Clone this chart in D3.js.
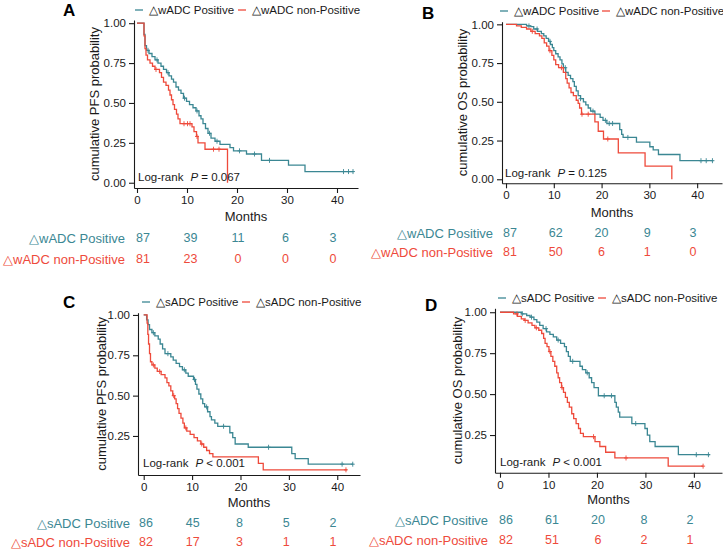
<!DOCTYPE html>
<html>
<head>
<meta charset="utf-8">
<script src="https://cdn.jsdelivr.net/npm/d3@7"></script>
<style>
  body { margin: 0; background: #fff; }
  text { font-family: "Liberation Sans", Arial, sans-serif; }
</style>
</head>
<body>
<div id="chart-area"></div>
<script>
(() => {

  const widthSvg = 723;
  const heightSvg = 549;
  const colPos = '#3b8793';
  const colNeg = '#ee4a3b';

  // ---- data ----
  const tickMonths = [0, 10, 20, 30, 40];
  const groupsW = ['\u25B3wADC Positive', '\u25B3wADC non-Positive'];
  const groupsS = ['\u25B3sADC Positive', '\u25B3sADC non-Positive'];

  // [month, survival after step]
  const pfsWPos = [[0,1],[1.4,0.93],[1.6,0.86],[1.9,0.83],[2.4,0.81],[3.0,0.79],[3.6,0.77],[4.2,0.75],[4.8,0.73],[5.3,0.71],[5.9,0.69],[6.4,0.67],[6.9,0.65],[7.3,0.63],[7.8,0.60],[8.3,0.58],[8.8,0.56],[9.3,0.53],[9.9,0.51],[10.5,0.49],[11.2,0.47],[11.8,0.45],[12.4,0.42],[12.8,0.40],[13.2,0.37],[13.7,0.34],[14.2,0.31],[14.8,0.28],[15.6,0.26],[16.6,0.24],[18.6,0.22],[19.3,0.20],[21.9,0.18],[24.9,0.14],[30.3,0.11],[33.6,0.07]];
  const pfsWNeg = [[0,1],[1.4,0.92],[1.6,0.84],[1.8,0.80],[2.1,0.77],[2.6,0.75],[3.1,0.73],[3.6,0.71],[4.5,0.69],[4.9,0.66],[5.3,0.63],[5.8,0.61],[6.3,0.58],[6.6,0.55],[6.9,0.52],[7.2,0.49],[7.5,0.46],[7.9,0.43],[8.2,0.40],[8.6,0.37],[11.0,0.35],[11.4,0.32],[11.9,0.29],[12.2,0.25],[13.6,0.21],[18.1,0.0]];
  const osWPos = [[0,1],[4.3,0.99],[5.2,0.985],[5.8,0.97],[6.6,0.955],[7.4,0.94],[7.9,0.925],[8.4,0.91],[8.9,0.89],[9.3,0.87],[9.7,0.85],[10.0,0.83],[10.4,0.81],[10.9,0.79],[11.3,0.77],[11.7,0.745],[12.0,0.72],[12.5,0.69],[13.0,0.67],[13.5,0.65],[14.0,0.63],[14.3,0.60],[14.7,0.57],[15.1,0.54],[15.6,0.52],[16.2,0.50],[16.7,0.48],[17.2,0.46],[17.7,0.44],[18.6,0.42],[19.7,0.40],[20.3,0.38],[21.1,0.36],[23.8,0.32],[24.2,0.29],[24.5,0.27],[27.3,0.24],[30.1,0.21],[30.8,0.19],[31.9,0.16],[36.4,0.12]];
  const osWNeg = [[0,1],[2.2,0.99],[3.2,0.98],[4.3,0.97],[5.2,0.955],[6.1,0.94],[7.0,0.925],[7.5,0.91],[8.0,0.88],[8.5,0.86],[9.0,0.83],[9.6,0.80],[10.0,0.77],[10.4,0.74],[11.0,0.72],[12.0,0.69],[12.5,0.65],[12.8,0.62],[13.2,0.59],[13.6,0.56],[14.1,0.54],[14.7,0.51],[15.1,0.49],[15.4,0.46],[15.8,0.42],[18.6,0.37],[19.3,0.31],[20.4,0.26],[23.5,0.17],[29.1,0.085],[34.7,0]];
  const pfsSPos = [[0,1],[0.6,0.97],[0.9,0.94],[1.2,0.91],[1.7,0.89],[2.3,0.87],[3.0,0.85],[3.4,0.82],[3.9,0.79],[4.4,0.76],[5.6,0.74],[6.1,0.72],[6.7,0.70],[7.4,0.68],[8.0,0.66],[8.7,0.64],[9.2,0.62],[10.3,0.60],[10.7,0.57],[11.0,0.54],[11.4,0.51],[11.8,0.48],[12.2,0.45],[12.6,0.43],[13.2,0.40],[13.7,0.37],[14.0,0.35],[14.7,0.33],[15.3,0.31],[17.8,0.27],[18.4,0.24],[18.9,0.20],[21.6,0.18],[30.6,0.14],[31.3,0.11],[34.0,0.075]];
  const pfsSNeg = [[0,1],[0.7,0.95],[0.85,0.88],[1.0,0.82],[1.2,0.76],[1.4,0.71],[1.7,0.69],[2.3,0.67],[2.8,0.65],[3.6,0.63],[4.4,0.61],[4.8,0.58],[5.2,0.56],[5.6,0.53],[6.0,0.50],[6.4,0.48],[6.7,0.45],[7.0,0.42],[7.3,0.39],[7.7,0.36],[8.1,0.33],[8.4,0.30],[8.9,0.28],[9.6,0.26],[10.4,0.24],[11.1,0.22],[11.8,0.20],[12.4,0.18],[13.0,0.16],[13.6,0.14],[14.3,0.12],[23.7,0.08],[24.7,0.04]];
  const osSPos = [[0,1],[4.5,0.99],[5.5,0.98],[6.2,0.97],[7.0,0.955],[7.6,0.94],[8.2,0.92],[8.9,0.90],[9.6,0.88],[10.3,0.865],[11.0,0.85],[11.7,0.83],[12.5,0.81],[13.3,0.79],[13.7,0.76],[14.1,0.73],[14.5,0.70],[16.5,0.67],[17.0,0.65],[17.7,0.63],[18.4,0.60],[18.9,0.57],[19.4,0.54],[20.3,0.49],[23.7,0.45],[24.0,0.42],[24.4,0.39],[24.7,0.36],[27.2,0.32],[29.9,0.29],[30.4,0.25],[30.9,0.21],[32.0,0.18],[36.8,0.13]];
  const osSNeg = [[0,1],[2.8,0.99],[3.6,0.975],[4.4,0.96],[5.0,0.95],[5.8,0.935],[6.6,0.92],[7.2,0.905],[8.0,0.89],[8.6,0.87],[9.0,0.84],[9.3,0.81],[9.7,0.79],[10.1,0.76],[10.5,0.73],[10.9,0.70],[11.3,0.67],[11.7,0.63],[12.0,0.60],[12.3,0.57],[12.7,0.54],[13.1,0.51],[13.5,0.48],[13.9,0.45],[14.3,0.42],[14.8,0.38],[15.2,0.35],[15.7,0.32],[16.2,0.29],[16.6,0.26],[17.2,0.24],[19.6,0.21],[20.6,0.18],[21.8,0.145],[23.7,0.11],[34.7,0.06]];

  // last follow-up month of each curve
  const endMonths = { pfsWPos: 43.3, pfsWNeg: 18.1, osWPos: 43.4, osWNeg: 34.7, pfsSPos: 43.3, pfsSNeg: 42.0, osSPos: 43.3, osSNeg: 41.9 };

  // censor marks (months)
  const cenPfsWPos = [2.2, 4.0, 6.2, 9.5, 12.0, 14.5, 16.0, 20.5, 23.5, 26.5, 41.3, 42.3, 43.2];
  const cenPfsWNeg = [3.8, 9.4, 10.1, 10.6, 12.0, 15.3, 16.4];
  const cenOsWPos = [4.8, 6.5, 9.2, 12.4, 15.6, 18.2, 20.8, 21.6, 22.3, 25.5, 40.8, 41.9, 43.2];
  const cenOsWNeg = [5.5, 9.2, 11.6, 15.9, 17.2, 21.3];
  const cenPfsSPos = [2.0, 5.0, 8.4, 10.5, 13.0, 16.5, 25.8, 41.0, 43.2];
  const cenPfsSNeg = [2.0, 3.3, 6.2, 8.7, 12.0, 41.8];
  const cenOsSPos = [4.6, 6.5, 9.5, 12.0, 15.0, 18.0, 21.5, 23.0, 28.0, 40.5, 43.0];
  const cenOsSNeg = [3.5, 5.2, 7.5, 10.3, 12.8, 19.3, 26.0, 41.9];

  // numbers at risk at 0, 10, 20, 30, 40 months
  const riskA = [[87, 39, 11, 6, 3], [81, 23, 0, 0, 0]];
  const riskB = [[87, 62, 20, 9, 3], [81, 50, 6, 1, 0]];
  const riskC = [[86, 45, 8, 5, 2], [82, 17, 3, 1, 1]];
  const riskD = [[86, 61, 20, 8, 2], [82, 51, 6, 2, 1]];

  const pValues = ['= 0.067', '= 0.125', '< 0.001', '< 0.001'];

  // ---- layout of the four panels ----
  const panels = [
    { letter: 'A', letterX: 63, letterY: 10, groups: groupsW, yTitle: 'cumulative PFS probability',
      curves: [pfsWPos, pfsWNeg], ends: [endMonths.pfsWPos, endMonths.pfsWNeg], cens: [cenPfsWPos, cenPfsWNeg],
      xDomain: [-0.6, 44.2], xRange: [134, 358], yDomain: [-0.033, 1.02], yRange: [188, 20],
      yTicks: [0, 0.25, 0.5, 0.75, 1], yTitleX: 94, monthsY: 216,
      legendY: 10, legendX: [135, 238], logX: 138, logY: 177, p: pValues[0],
      risk: riskA, tableRange: [143, 333], tableLabelX: 125, tableRows: [238, 259] },
    { letter: 'B', letterX: 422, letterY: 13, groups: groupsW, yTitle: 'cumulative OS probability',
      curves: [osWPos, osWNeg], ends: [endMonths.osWPos, endMonths.osWNeg], cens: [cenOsWPos, cenOsWNeg],
      xDomain: [-0.84, 45.2], xRange: [502, 722], yDomain: [-0.026, 1.017], yRange: [183.3, 21.7],
      yTicks: [0, 0.25, 0.5, 0.75, 1], yTitleX: 462, monthsY: 212,
      legendY: 11, legendX: [500, 602], logX: 505, logY: 173, p: pValues[1],
      risk: riskB, tableRange: [510, 693], tableLabelX: 493, tableRows: [233, 252] },
    { letter: 'C', letterX: 63, letterY: 302, groups: groupsS, yTitle: 'cumulative PFS probability',
      curves: [pfsSPos, pfsSNeg], ends: [endMonths.pfsSPos, endMonths.pfsSNeg], cens: [cenPfsSPos, cenPfsSNeg],
      xDomain: [-1.18, 44.7], xRange: [138, 360], yDomain: [0.008, 1.014], yRange: [475, 312.7],
      yTicks: [0.25, 0.5, 0.75, 1], yTitleX: 101, monthsY: 502,
      legendY: 302, legendX: [142, 242], logX: 143, logY: 463, p: pValues[2],
      risk: riskC, tableRange: [146, 333], tableLabelX: 130, tableRows: [523, 542] },
    { letter: 'D', letterX: 425, letterY: 305, groups: groupsS, yTitle: 'cumulative OS probability',
      curves: [osSPos, osSNeg], ends: [endMonths.osSPos, endMonths.osSNeg], cens: [cenOsSPos, cenOsSNeg],
      xDomain: [-1.03, 45.8], xRange: [495, 722], yDomain: [0.02, 1.024], yRange: [472.7, 308.3],
      yTicks: [0.25, 0.5, 0.75, 1], yTitleX: 457, monthsY: 499,
      legendY: 298, legendX: [498, 598], logX: 500, logY: 462, p: pValues[3],
      risk: riskD, tableRange: [506, 690], tableLabelX: 488, tableRows: [520, 540] },
  ];

  const svg = d3.select('#chart-area').append('svg')
    .attr('width', widthSvg)
    .attr('height', heightSvg);

  const survAt = (steps, t) => {
    let s = steps[0][1];
    steps.forEach(([tt, ss]) => { if (tt <= t) s = ss; });
    return s;
  };

  const drawPanel = (p) => {
    const g = svg.append('g');
    const x = d3.scaleLinear().domain(p.xDomain).range(p.xRange);
    const y = d3.scaleLinear().domain(p.yDomain).range(p.yRange);
    const colors = [colPos, colNeg];

    // axes
    const axX = g.append('g')
      .attr('transform', `translate(0, ${p.yRange[0]})`)
      .call(d3.axisBottom(x).tickValues(tickMonths).tickSize(5).tickPadding(3).tickSizeOuter(0));
    const axY = g.append('g')
      .attr('transform', `translate(${p.xRange[0]}, 0)`)
      .call(d3.axisLeft(y).tickValues(p.yTicks).tickFormat(d3.format('.2f')).tickSize(5).tickPadding(3).tickSizeOuter(0));
    [axX, axY].forEach(ax => {
      ax.selectAll('path, line').attr('stroke', '#1a1a1a').attr('stroke-width', 1.1);
      ax.selectAll('text').attr('font-size', '11.5px').attr('fill', '#1a1a1a')
        .attr('font-family', '"Liberation Sans", Arial, sans-serif');
    });

    // axis titles
    g.append('text')
      .text('Months')
      .attr('x', (p.xRange[0] + p.xRange[1]) / 2)
      .attr('y', p.monthsY)
      .attr('dy', '0.35em')
      .attr('text-anchor', 'middle')
      .attr('font-size', '13px')
      .attr('fill', '#1a1a1a');
    g.append('text')
      .text(p.yTitle)
      .attr('transform', `translate(${p.yTitleX}, ${(p.yRange[0] + p.yRange[1]) / 2}) rotate(-90)`)
      .attr('dy', '0.35em')
      .attr('text-anchor', 'middle')
      .attr('font-size', '13px')
      .attr('fill', '#1a1a1a');

    // curves, drawn positive first then negative
    const line = d3.line()
      .x(d => x(d[0]))
      .y(d => y(d[1]))
      .curve(d3.curveStepAfter);
    p.curves.forEach((steps, i) => {
      const pts = steps.slice();
      const end = p.ends[i];
      if (end > pts[pts.length - 1][0]) pts.push([end, pts[pts.length - 1][1]]);
      g.append('path')
        .attr('d', line(pts))
        .attr('fill', 'none')
        .attr('stroke', colors[i])
        .attr('stroke-width', 1.3);
      g.selectAll(null)
        .data(p.cens[i])
        .enter()
        .append('path')
          .attr('d', d => {
            const cx = x(d), cy = y(survAt(steps, d));
            return `M${cx},${cy - 2.5}V${cy + 2.5}M${cx - 2},${cy}H${cx + 2}`;
          })
          .attr('stroke', colors[i])
          .attr('stroke-width', 0.9);
    });

    // log-rank label
    const lr = g.append('text')
      .attr('x', p.logX)
      .attr('y', p.logY)
      .attr('dy', '0.35em')
      .attr('font-size', '11.5px')
      .attr('fill', '#1a1a1a');
    lr.append('tspan').text('Log-rank');
    lr.append('tspan').text('P').attr('dx', 7).attr('font-style', 'italic');
    lr.append('tspan').text(' ' + p.p);

    // panel letter
    g.append('text')
      .text(p.letter)
      .attr('x', p.letterX)
      .attr('y', p.letterY)
      .attr('dy', '0.35em')
      .attr('font-size', '17px')
      .attr('font-weight', 'bold')
      .attr('fill', '#000');

    // legend
    p.groups.forEach((name, i) => {
      g.append('line')
        .attr('x1', p.legendX[i]).attr('x2', p.legendX[i] + 8)
        .attr('y1', p.legendY).attr('y2', p.legendY)
        .attr('stroke', colors[i])
        .attr('stroke-width', 1.3);
      g.append('text')
        .text(name)
        .attr('x', p.legendX[i] + 14)
        .attr('y', p.legendY)
        .attr('dy', '0.35em')
        .attr('font-size', '11.5px')
        .attr('fill', '#1a1a1a');
    });

    // risk table
    const xt = d3.scaleLinear().domain([0, 40]).range(p.tableRange);
    p.risk.forEach((row, i) => {
      g.append('text')
        .text(p.groups[i])
        .attr('x', p.tableLabelX)
        .attr('y', p.tableRows[i])
        .attr('dy', '0.35em')
        .attr('text-anchor', 'end')
        .attr('font-size', '13px')
        .attr('fill', colors[i]);
      g.selectAll(null)
        .data(row)
        .enter()
        .append('text')
          .text(d => d)
          .attr('x', (d, j) => xt(tickMonths[j]))
          .attr('y', p.tableRows[i])
          .attr('dy', '0.35em')
          .attr('text-anchor', 'middle')
          .attr('font-size', '12.5px')
          .attr('fill', colors[i]);
    });
  };

  panels.forEach(drawPanel);

})();
</script>
</body>
</html>
